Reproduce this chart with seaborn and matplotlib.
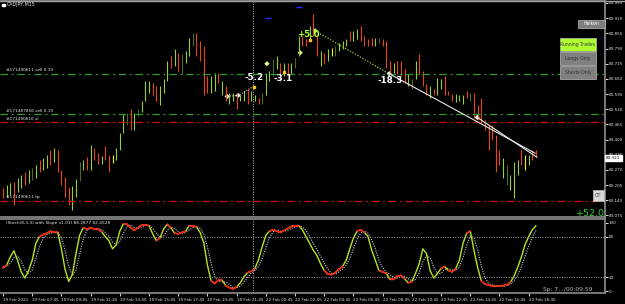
import numpy as np
import pandas as pd
import matplotlib
matplotlib.use("Agg")
import matplotlib.pyplot as plt
import matplotlib.transforms as mtransforms
from matplotlib.patches import Rectangle
import seaborn as sns

# ---------------- data ----------------
symbol = "CADJPY,M15"
highs = [83.192, 83.205, 83.213, 83.218, 83.235, 83.248, 83.260, 83.269, 83.277, 83.290,
         83.311, 83.320, 83.333, 83.354, 83.363, 83.354, 83.269, 83.239, 83.196, 83.201,
         83.230, 83.303, 83.311, 83.324, 83.375, 83.363, 83.341, 83.329, 83.371, 83.333,
         83.333, 83.363, 83.427, 83.508, 83.512, 83.533, 83.512, 83.533, 83.567, 83.653,
         83.653, 83.644, 83.631, 83.631, 83.661, 83.738, 83.759, 83.789, 83.772, 83.768,
         83.780, 83.836, 83.857, 83.857, 83.823, 83.802, 83.674, 83.674, 83.687, 83.687,
         83.653, 83.631, 83.601, 83.601, 83.601, 83.589, 83.610, 83.618, 83.610, 83.589,
         83.580, 83.601, 83.687, 83.695, 83.746, 83.759, 83.729, 83.729, 83.729, 83.729,
         83.751, 83.844, 83.844, 83.832, 83.887, 83.938, 83.844, 83.780, 83.772, 83.789,
         83.793, 83.802, 83.815, 83.823, 83.832, 83.866, 83.866, 83.874, 83.887, 83.844,
         83.832, 83.836, 83.836, 83.836, 83.832, 83.823, 83.738, 83.729, 83.738, 83.738,
         83.704, 83.682, 83.661, 83.738, 83.768, 83.695, 83.640, 83.631, 83.618, 83.665,
         83.661, 83.674, 83.610, 83.597, 83.597, 83.589, 83.589, 83.610, 83.601, 83.601,
         83.546, 83.576, 83.482, 83.461, 83.461, 83.418, 83.354, 83.320, 83.290, 83.248,
         83.303, 83.311, 83.354, 83.333, 83.333, 83.354, 83.354]
lows = [83.149, 83.154, 83.162, 83.120, 83.175, 83.192, 83.205, 83.213, 83.226, 83.235,
        83.260, 83.269, 83.277, 83.290, 83.303, 83.260, 83.205, 83.154, 83.120, 83.098,
        83.154, 83.222, 83.269, 83.269, 83.269, 83.311, 83.294, 83.294, 83.311, 83.260,
        83.299, 83.311, 83.354, 83.427, 83.461, 83.439, 83.439, 83.503, 83.516, 83.567,
        83.601, 83.589, 83.567, 83.546, 83.601, 83.653, 83.708, 83.716, 83.695, 83.682,
        83.729, 83.759, 83.802, 83.759, 83.738, 83.589, 83.601, 83.601, 83.610, 83.644,
        83.589, 83.567, 83.554, 83.567, 83.533, 83.567, 83.567, 83.554, 83.567, 83.567,
        83.554, 83.554, 83.589, 83.653, 83.674, 83.704, 83.653, 83.674, 83.682, 83.682,
        83.708, 83.759, 83.802, 83.802, 83.823, 83.844, 83.759, 83.716, 83.725, 83.738,
        83.759, 83.759, 83.780, 83.789, 83.802, 83.823, 83.823, 83.832, 83.823, 83.802,
        83.802, 83.802, 83.802, 83.815, 83.802, 83.708, 83.687, 83.687, 83.682, 83.674,
        83.644, 83.631, 83.618, 83.661, 83.682, 83.631, 83.589, 83.580, 83.589, 83.589,
        83.618, 83.589, 83.589, 83.567, 83.559, 83.567, 83.554, 83.576, 83.567, 83.491,
        83.482, 83.473, 83.439, 83.354, 83.397, 83.260, 83.290, 83.235, 83.205, 83.184,
        83.149, 83.248, 83.290, 83.269, 83.290, 83.311, 83.324]
bar_dirs = ("duuduudunu" "duududdddu" "unududdudd" "yuuundunuu" "udduuududn"
            "uundddduud" "uduuduuduu" "dnuunududu" "nudduddudu" "ynuuuduudd"
            "ddundddudd" "dunudddudu" "uddduuudnd" "dddddddunu" "uudyudd")

stoch_k = [34, 38, 50, 59, 45, 28, 19, 30, 45, 70, 80, 83, 85, 88, 86, 86, 62, 32, 14, 24,
           55, 82, 93, 91, 93, 91, 91, 87, 80, 74, 62, 68, 88, 99, 98, 93, 89, 93, 97, 97,
           96, 84, 74, 78, 91, 98, 93, 85, 84, 86, 88, 96, 96, 94, 86, 71, 38, 15, 11, 16,
           16, 8, 5, 3, 6, 12, 21, 27, 29, 33, 46, 65, 82, 88, 90, 88, 86, 89, 92, 95,
           96, 96, 90, 80, 70, 60, 52, 40, 30, 25, 24, 27, 32, 36, 45, 62, 78, 88, 90, 86,
           80, 60, 45, 30, 28, 26, 17, 17, 22, 23, 18, 12, 14, 26, 40, 62, 55, 30, 19, 26,
           33, 36, 30, 28, 33, 45, 70, 85, 88, 60, 35, 15, 10, 9, 7, 7, 7, 8, 9, 13,
           22, 35, 50, 68, 80, 90, 96]
stoch_d = [36, 36, 41, 49, 51, 44, 31, 26, 31, 48, 65, 78, 83, 85, 86, 87, 78, 60, 36, 23,
           31, 54, 77, 89, 92, 92, 92, 90, 86, 80, 72, 68, 73, 85, 95, 97, 93, 92, 93, 96,
           97, 92, 85, 79, 81, 89, 94, 92, 87, 85, 86, 90, 93, 95, 92, 84, 65, 41, 21, 14,
           14, 13, 10, 5, 5, 7, 13, 20, 26, 30, 36, 48, 64, 78, 87, 89, 88, 88, 89, 92,
           94, 96, 94, 89, 80, 70, 61, 51, 41, 32, 26, 25, 28, 32, 38, 48, 62, 76, 85, 88,
           85, 75, 62, 45, 34, 28, 24, 20, 19, 21, 21, 18, 15, 17, 27, 43, 52, 49, 35, 25,
           26, 32, 33, 31, 30, 35, 49, 67, 81, 78, 61, 37, 20, 11, 9, 8, 7, 7, 8, 10,
           15, 23, 36, 51, 66, 79, 89]

price_ticks = [83.985, 83.920, 83.855, 83.790, 83.725, 83.660, 83.595, 83.530,
               83.465, 83.400, 83.335, 83.270, 83.205, 83.140, 83.075]
time_labels = ["19 Feb 2021", "19 Feb 07:45", "19 Feb 09:45", "19 Feb 11:45", "19 Feb 13:45",
               "19 Feb 15:45", "19 Feb 17:45", "19 Feb 19:45", "19 Feb 21:45", "22 Feb 00:45",
               "22 Feb 02:45", "22 Feb 04:45", "22 Feb 06:45", "22 Feb 08:45", "22 Feb 10:45",
               "22 Feb 12:45", "22 Feb 14:45", "22 Feb 16:45", "22 Feb 18:45"]
stoch_ticks = [100, 80, 20, 0]
stoch_levels = [80, 20]
stoch_title = "(Stoch(8,3,3) with Slope v1.01) 88.2877 82.4528"

order_levels = [83.682, 83.508, 83.474, 83.139]
order_labels = ["#171490611 sell 0.10", "#171487856 sell 0.10", "#171490616 sl", "#171490611 tp"]
order_kind = ["entry", "entry", "stop", "stop"]
current_price = 83.321
cursor_bar = 68.5

trade_pt_bar = [61.4, 64.4, 72.3, 81.4, 85.5, 105.8, 129.9]
trade_pt_price = [83.585, 83.589, 83.725, 83.772, 83.866, 83.682, 83.495]
trade_pt_kind = ["w", "w", "g", "g", "g", "w", "w"]
small_dot_bar = [68.8, 77.0, 84.1]
small_dot_price = [83.627, 83.691, 83.827]
profit_text = ["-5.2", "-3.1", "+5.0", "-18.3"]
profit_bar = [68.9, 76.8, 83.7, 106.0]
profit_price = [83.665, 83.663, 83.849, 83.653]
profit_kind = ["w", "w", "g", "w"]
dotted_w_bar = [61.4, 64.4, 69.0]
dotted_w_price = [83.585, 83.589, 83.631]
dotted_g_bar = [85.5, 105.5]
dotted_g_price = [83.866, 83.684]
trend1_bar = [105.8, 145.8]
trend1_price = [83.682, 83.341]
trend2_bar = [129.9, 146.3]
trend2_price = [83.495, 83.324]
blue_bar = [72.7, 81.1]
blue_price = [83.921, 83.968]
total_profit = "+52.0"
status_text = "Sp: 7.../00:09:59"
buttons = ["Heiken", "Running Trades", "Longs Only", "Shorts Only", "OT"]

# ---------------- style ----------------
sns.set_theme(style="dark", rc={"axes.facecolor": "black", "figure.facecolor": "black",
                                "axes.grid": False})
plt.rcParams["font.family"] = ["DejaVu Sans"]

W, H = 625, 304
fig = plt.figure(figsize=(W / 100, H / 100), dpi=100)
fig.patch.set_facecolor("black")

def fx(x):
    return x / W

def fy(y):
    return 1 - y / H

GRAY = "#8c8c8c"
ax = fig.add_axes([0, fy(217), fx(605), (217 - 1) / H])
ax2 = fig.add_axes([0, fy(293), fx(605), (293 - 219) / H])
for a in (ax, ax2):
    a.set_facecolor("black")
    a.spines["left"].set_visible(False)
    for s in ("top", "bottom", "right"):
        a.spines[s].set_color(GRAY)
        a.spines[s].set_linewidth(1.2)
    a.set_xlim(-0.82, 164.9)

# ---------------- main panel ----------------
n = len(highs)
idx = np.arange(n)
col_map = {"u": "#9acd32", "d": "#e8450f", "n": "#4e6a1c", "y": "#f0f000"}
colors = [col_map[c] for c in bar_dirs]
ax.vlines(idx, lows, highs, colors=colors, linewidth=0.8)

ax.set_ylim(83.0684, 83.9935)
ax.set_yticks(price_ticks)
ax.set_yticklabels([f"{p:.3f}" for p in price_ticks])
ax.yaxis.tick_right()
ax.tick_params(axis="y", colors="white", labelsize=3.0, length=1.8, width=0.6, pad=1.0,
               labelcolor="#e0e0e0")
ax.tick_params(axis="x", bottom=False, labelbottom=False)

for lvl, lab, kind in zip(order_levels, order_labels, order_kind):
    c = "#2a9a2a" if kind == "entry" else "#d01010"
    ax.axhline(lvl, color=c, lw=0.9, linestyle=(0, (6, 3, 1.5, 3)))
    ax.text(0.8, lvl + 0.006, lab, color="#e6e6e6", fontsize=3.1, va="bottom", ha="left")

ax.axvline(cursor_bar, color="#a0a0a0", lw=0.8, linestyle=(0, (1, 1.2)))

ax.plot(dotted_w_bar, dotted_w_price, color="#d8d8d8", lw=0.8, linestyle=(0, (1, 1.3)))
ax.plot(dotted_g_bar, dotted_g_price, color="#9acd32", lw=0.9, linestyle=(0, (1, 1.3)))
ax.plot(trend1_bar, trend1_price, color="#e8e8e8", lw=0.8)
ax.plot(trend2_bar, trend2_price, color="#e8e8e8", lw=0.8)

pt_df = pd.DataFrame({"bar": trade_pt_bar, "price": trade_pt_price, "kind": trade_pt_kind})
sns.scatterplot(data=pt_df, x="bar", y="price", hue="kind",
                palette={"w": "#ffffff", "g": "#d8ff80"}, marker="D", s=7,
                edgecolor="none", legend=False, ax=ax)
ax.scatter(small_dot_bar, small_dot_price, color="#ffc020", s=4, marker="s", zorder=5)
ax.hlines(blue_price, np.array(blue_bar) - 0.8, np.array(blue_bar) + 0.8, color="#2030ff", lw=1.0)

for t, b, p, k in zip(profit_text, profit_bar, profit_price, profit_kind):
    ax.text(b, p, t, color="#ffffff" if k == "w" else "#adff2f", fontsize=6.3,
            fontweight="bold", ha="center", va="center", zorder=6)

trans = mtransforms.blended_transform_factory(ax.transAxes, ax.transData)
ax.text(1.002, current_price, f"{current_price:.3f}", transform=trans, fontsize=3.0,
        color="black", va="center", ha="left", zorder=20, clip_on=False,
        bbox=dict(boxstyle="square,pad=0.25", fc="white", ec="white"))

ax.set_xlabel("")
ax.set_ylabel("")

# ---------------- stochastic panel ----------------
stoch_df = pd.DataFrame({"bar": idx, "k": stoch_k, "d": stoch_d})
sns.lineplot(data=stoch_df, x="bar", y="d", ax=ax2, color="#c8c8c8", lw=0.8,
             linestyle=(0, (1, 1.2)))
sns.lineplot(data=stoch_df, x="bar", y="k", ax=ax2, color="#b5e61d", lw=1.0)
for i in range(n - 1):
    if abs(stoch_k[i + 1] - stoch_k[i]) < 6:
        ax2.plot([i, i + 1], [stoch_k[i], stoch_k[i + 1]], color="#ff1a1a", lw=1.1,
                 solid_capstyle="round")
for lv in stoch_levels:
    ax2.axhline(lv, color="#9a9a9a", lw=0.7, linestyle=(0, (1, 1.5)))
ax2.axvline(cursor_bar, color="#a0a0a0", lw=0.8, linestyle=(0, (1, 1.2)))
ax2.set_ylim(-2.9, 105.8)
ax2.set_yticks(stoch_ticks)
ax2.set_yticklabels([str(v) for v in stoch_ticks])
ax2.yaxis.tick_right()
ax2.tick_params(axis="y", colors="white", labelsize=3.0, length=1.8, width=0.6, pad=1.0,
                labelcolor="#e0e0e0")
tick_pos = np.arange(len(time_labels)) * 8
ax2.set_xticks(tick_pos)
ax2.set_xticklabels(time_labels)
ax2.tick_params(axis="x", colors="white", labelsize=3.0, length=2.5, width=0.6, pad=1.2,
                labelcolor="#e0e0e0", bottom=True)
for lbl in ax2.get_xticklabels():
    lbl.set_ha("left")
ax2.set_xlabel("")
ax2.set_ylabel("")

ax2.text(0.8, 103.5, stoch_title, color="#e6e6e6", fontsize=3.1, va="top", ha="left")

# ---------------- overlays (figure pixel coords) ----------------
fig.add_artist(plt.Line2D([0, 1], [fy(0.5), fy(0.5)], color="#a0a0a0", lw=1.0))
fig.add_artist(Rectangle((fx(2), fy(6)), fx(3), 2.2 / H, color="white"))
fig.text(fx(7), fy(6.3), symbol, color="#e6e6e6", fontsize=3.4, va="baseline")

def button(x0, y0, x1, y1, label, bg, fg):
    fig.add_artist(Rectangle((fx(x0), fy(y1)), fx(x1 - x0), (y1 - y0) / H,
                             facecolor=bg, edgecolor="#bdbdbd", lw=0.5))
    fig.text(fx((x0 + x1) / 2), fy((y0 + y1) / 2), label, color=fg, fontsize=3.3,
             ha="center", va="center")

button(578, 20, 605, 27.5, buttons[0], "#7d7d7d", "#ffffff")
button(560, 38, 596, 51, buttons[1], "#adff2f", "#3a3a3a")
button(560, 52, 596, 65, buttons[2], "#808080", "#2e2e2e")
button(560, 66, 596, 79, buttons[3], "#808080", "#2e2e2e")
button(593, 190, 603.5, 200.5, buttons[4], "#d8d8d8", "#333333")

fig.text(fx(605), fy(216), total_profit, color="#32cd32", fontsize=6.8, ha="right",
         va="baseline")
fig.text(fx(543), fy(291), status_text, color="#b8b8b8", fontsize=4.3, ha="left",
         va="baseline")

fig.savefig("out.png", dpi=100, facecolor="black")
